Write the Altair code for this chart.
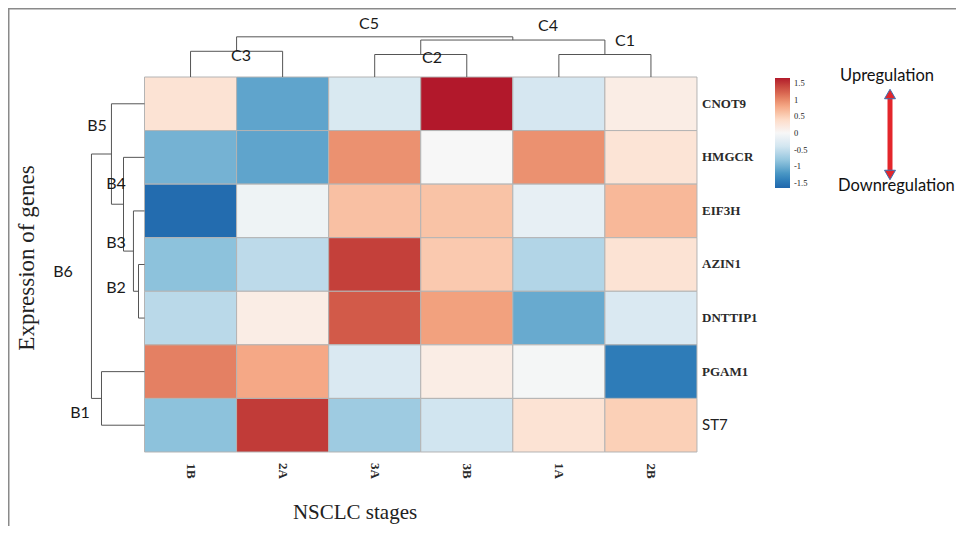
import altair as alt
import pandas as pd

# ---------------- data ----------------
stages = ["1B", "2A", "3A", "3B", "1A", "2B"]
genes = ["CNOT9", "HMGCR", "EIF3H", "AZIN1", "DNTTIP1", "PGAM1", "ST7"]

cnot9 = [0.30, -1.10, -0.33, 1.65, -0.36, 0.15]
hmgcr = [-0.98, -1.10, 0.95, 0.00, 0.95, 0.28]
eif3h = [-1.60, -0.10, 0.62, 0.60, -0.18, 0.68]
azin1 = [-0.85, -0.55, 1.45, 0.55, -0.62, 0.30]
dnttip1 = [-0.57, 0.15, 1.28, 0.85, -1.05, -0.32]
pgam1 = [1.05, 0.80, -0.32, 0.15, -0.03, -1.45]
st7 = [-0.85, 1.48, -0.75, -0.41, 0.30, 0.50]
expr = [cnot9, hmgcr, eif3h, azin1, dnttip1, pgam1, st7]

# dendrogram merges: (name, left, right, height)
col_merges = [("C3", "1B", "2A", 0.48), ("C2", "3A", "3B", 0.42), ("C1", "1A", "2B", 0.42),
              ("C4", "C2", "C1", 0.69), ("C5", "C3", "C4", 0.75)]
row_merges = [("B2", "AZIN1", "DNTTIP1", 0.065), ("B3", "EIF3H", "B2", 0.12),
              ("B4", "HMGCR", "B3", 0.228), ("B5", "CNOT9", "B4", 0.359),
              ("B1", "PGAM1", "ST7", 0.467), ("B6", "B5", "B1", 0.576)]

legend_ticks = [-1.5, -1, -0.5, 0, 0.5, 1, 1.5]

# ---------------- layout ----------------
W, H = 948, 518
HEAT_X0, HEAT_Y0 = 136.5, 69.0     # heatmap top-left in chart px
CELL_W, CELL_H = 92.08, 53.57


def ux(px):
    return (px - 8 - HEAT_X0) / CELL_W


def uy(py):
    return (py - 8 - HEAT_Y0) / CELL_H


xs = alt.Scale(domain=[ux(8), ux(8 + W)], nice=False, zero=False)
ys = alt.Scale(domain=[uy(8), uy(8 + H)], nice=False, zero=False, reverse=True)

# heatmap table
cells = []
for r, g in enumerate(genes):
    for c, s in enumerate(stages):
        cells.append({"gene": g, "stage": s, "v": expr[r][c],
                      "x0": c, "x1": c + 1, "y0": r, "y1": r + 1})
heat_df = pd.DataFrame(cells)

# dendrogram segments
segs = []
cpos = {s: (i + 0.5, 0.0) for i, s in enumerate(stages)}
for name, a, b, h in col_merges:
    (xa, ha), (xb, hb) = cpos[a], cpos[b]
    segs += [{"x": xa, "x2": xa, "y": -ha, "y2": -h},
             {"x": xb, "x2": xb, "y": -hb, "y2": -h},
             {"x": xa, "x2": xb, "y": -h, "y2": -h}]
    cpos[name] = ((xa + xb) / 2, h)

rpos = {g: (0.0, i + 0.5) for i, g in enumerate(genes)}
for name, a, b, h in row_merges:
    (ha, ya), (hb, yb) = rpos[a], rpos[b]
    segs += [{"x": -ha, "x2": -h, "y": ya, "y2": ya},
             {"x": -hb, "x2": -h, "y": yb, "y2": yb},
             {"x": -h, "x2": -h, "y": ya, "y2": yb}]
    rpos[name] = (h, (ya + yb) / 2)
seg_df = pd.DataFrame(segs)

# dendrogram label positions (page px)
dlabel_pos = {"C5": (369, 24), "C4": (548, 26), "C1": (625, 41), "C3": (241, 56), "C2": (432, 58),
              "B5": (97, 126), "B4": (116, 184), "B3": (116, 243), "B2": (116, 288),
              "B6": (63, 272), "B1": (80, 413)}
dlab_df = pd.DataFrame([{"t": k, "x": ux(v[0]), "y": uy(v[1])} for k, v in dlabel_pos.items()])

rowlab_df = pd.DataFrame([{"t": g, "x": ux(702), "y": i + 0.5} for i, g in enumerate(genes)])
collab_df = pd.DataFrame([{"t": s, "x": i + 0.5, "y": uy(471)} for i, s in enumerate(stages)])

X = lambda f="x": alt.X(f"{f}:Q", scale=xs, axis=None)
Y = lambda f="y": alt.Y(f"{f}:Q", scale=ys, axis=None)

rdbu = ["#2166ac", "#4393c3", "#92c5de", "#d1e5f0", "#f7f7f7",
        "#fddbc7", "#f4a582", "#d6604d", "#b2182b"]

heat = alt.Chart(heat_df).mark_rect(stroke="#b4b4b4", strokeWidth=1).encode(
    x=X("x0"), x2="x1:Q", y=Y("y0"), y2="y1:Q",
    color=alt.Color("v:Q", scale=alt.Scale(domain=[-1.65, 1.65], range=rdbu),
                    legend=alt.Legend(orient="none", legendX=767, legendY=70, title=None,
                                      direction="vertical",
                                      gradientLength=110, gradientThickness=15,
                                      gradientStrokeWidth=0,
                                      values=legend_ticks, labelExpr="'' + datum.value",
                                      labelFont="Liberation Serif", labelFontSize=8.5,
                                      labelColor="#222", labelOffset=4)))

dend = alt.Chart(seg_df).mark_rule(color="#555555", strokeWidth=1).encode(
    x=X("x"), x2="x2:Q", y=Y("y"), y2="y2:Q")

dlab = alt.Chart(dlab_df).mark_text(font="Lato", fontSize=16, color="#1a1a1a",
                                    align="center", baseline="middle").encode(
    x=X(), y=Y(), text="t:N")

rowlab_serif = alt.Chart(rowlab_df[rowlab_df.t != "ST7"]).mark_text(
    font="Liberation Serif", fontSize=13, fontWeight="bold", color="#2a2a2a",
    align="left", baseline="middle").encode(x=X(), y=Y(), text="t:N")
rowlab_sans = alt.Chart(rowlab_df[rowlab_df.t == "ST7"]).mark_text(
    font="Lato", fontSize=15, color="#222", align="left", baseline="middle").encode(
    x=X(), y=Y(), text="t:N")

collab = alt.Chart(collab_df).mark_text(
    font="Liberation Serif", fontSize=13, fontWeight="bold", color="#2a2a2a", angle=90,
    align="center", baseline="middle").encode(x=X(), y=Y(), text="t:N")

one = pd.DataFrame([{"t": "NSCLC stages", "x": ux(355), "y": uy(513)}])
xtitle = alt.Chart(one).mark_text(font="Liberation Serif", fontSize=21, color="#222",
                                  align="center", baseline="middle").encode(x=X(), y=Y(), text="t:N")
two = pd.DataFrame([{"t": "Expression of genes", "x": ux(27), "y": uy(258)}])
ytitle = alt.Chart(two).mark_text(font="Liberation Serif", fontSize=23, color="#222", angle=270,
                                  align="center", baseline="middle").encode(x=X(), y=Y(), text="t:N")

ann_df = pd.DataFrame([{"t": "Upregulation", "x": ux(840), "y": uy(76)},
                       {"t": "Downregulation", "x": ux(838), "y": uy(186)}])
ann = alt.Chart(ann_df).mark_text(font="Lato", fontSize=16.5, color="#111",
                                  align="left", baseline="middle").encode(x=X(), y=Y(), text="t:N")

arrow_df = pd.DataFrame([{"x": ux(890), "y": uy(97), "y2": uy(171)}])
shaft = alt.Chart(arrow_df).mark_rule(color="#e3262b", strokeWidth=5).encode(
    x=X(), y=Y(), y2="y2:Q")
heads_up = alt.Chart(pd.DataFrame([{"x": ux(890), "y": uy(94)}])).mark_point(
    shape="triangle-up", filled=True, size=120, color="#e3262b", stroke="#3d6fb0",
    strokeWidth=1, opacity=1).encode(x=X(), y=Y())
heads_dn = alt.Chart(pd.DataFrame([{"x": ux(890), "y": uy(175)}])).mark_point(
    shape="triangle-down", filled=True, size=120, color="#e3262b", stroke="#3d6fb0",
    strokeWidth=1, opacity=1).encode(x=X(), y=Y())

frame_top = alt.Chart(pd.DataFrame([{"a": 0}])).mark_rule(color="#8a8a8a", strokeWidth=2).encode(
    x=alt.value(0), x2=alt.value(W), y=alt.value(0.5))
frame_left = alt.Chart(pd.DataFrame([{"a": 0}])).mark_rule(color="#8a8a8a", strokeWidth=2).encode(
    x=alt.value(0.5), y=alt.value(0), y2=alt.value(H))

chart = alt.layer(
    heat, dend, dlab, rowlab_serif, rowlab_sans, collab, xtitle, ytitle, ann,
    shaft, heads_up, heads_dn, frame_top, frame_left
).properties(
    width=W, height=H, padding=0, autosize=alt.AutoSizeParams(type="none"),
    background="white"
).configure_view(stroke=None)

chart.save("out.html", embed_options={"renderer": "svg", "actions": False})
